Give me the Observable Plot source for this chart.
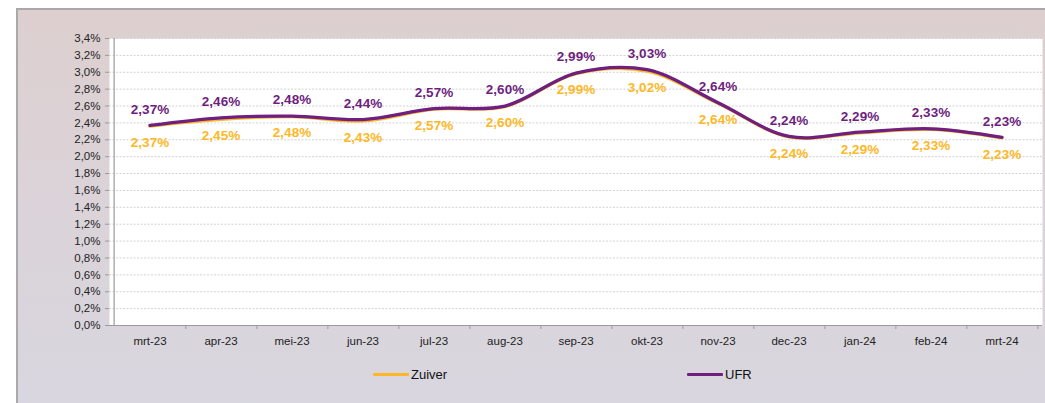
<!DOCTYPE html>
<html>
<head>
<meta charset="utf-8">
<script src="https://cdn.jsdelivr.net/npm/d3@7"></script>
<script src="https://cdn.jsdelivr.net/npm/@observablehq/plot@0.6"></script>
<style>
  html, body { margin: 0; padding: 0; background: #ffffff; }
  body { width: 1045px; height: 403px; position: relative; overflow: hidden; font-family: "Liberation Sans", Arial, sans-serif; }
  #frame { position: absolute; left: 16px; top: 8px; width: 1040px; height: 400px;
    border-top: 2px solid #a9a9a9; border-left: 2px solid #a9a9a9;
    background: linear-gradient(to bottom, #ddcfcf 0%, #dbd3d8 45%, #d8d6df 100%); }
  #chart { position: absolute; left: 0; top: 0; }
  .legend { position: absolute; top: 367px; display: flex; align-items: center; font-size: 13px; color: #111; }
  .legend .sw { width: 36px; height: 3px; margin-right: 2px; border-radius: 1px; }
</style>
</head>
<body>
<div id="frame"></div>
<div id="chart"></div>
<div class="legend" style="left:373px"><span class="sw" style="background:#fdb827"></span>Zuiver</div>
<div class="legend" style="left:687px"><span class="sw" style="background:#6e1f80"></span>UFR</div>
<script>
const months = ["mrt-23","apr-23","mei-23","jun-23","jul-23","aug-23","sep-23","okt-23","nov-23","dec-23","jan-24","feb-24","mrt-24"];
const zuiver = [2.37, 2.45, 2.48, 2.43, 2.57, 2.60, 2.99, 3.02, 2.64, 2.24, 2.29, 2.33, 2.23];
const ufr    = [2.37, 2.46, 2.48, 2.44, 2.57, 2.60, 2.99, 3.03, 2.64, 2.24, 2.29, 2.33, 2.23];
const yTicks = [0, 0.2, 0.4, 0.6, 0.8, 1.0, 1.2, 1.4, 1.6, 1.8, 2.0, 2.2, 2.4, 2.6, 2.8, 3.0, 3.2, 3.4];

const ORANGE = "#fdb827", PURPLE = "#6e1f80";
const W = 1045, H = 403, ML = 109, MR = 3, MT = 38, MB = 78;
const step = (W - ML - MR) / months.length;

const data = months.map((m, i) => ({month: m, zuiver: zuiver[i], ufr: ufr[i]}));
const pct1 = d => d.toFixed(1).replace(".", ",") + "%";
const pct2 = d => d.toFixed(2).replace(".", ",") + "%";

const chart = Plot.plot({
  width: W, height: H,
  marginLeft: ML, marginRight: MR, marginTop: MT, marginBottom: MB,
  style: {background: "transparent", fontFamily: "'Liberation Sans', Arial, sans-serif", fontSize: "11.5px", color: "#222"},
  x: {type: "band", domain: months, padding: 0, label: null},
  y: {domain: [0, 3.4], label: null},
  marks: [
    Plot.frame({fill: "white", stroke: "none"}),
    Plot.ruleY(yTicks.filter(d => d > 0), {stroke: "#d2d2d2", strokeDasharray: "2,1.5", strokeWidth: 1}),
    Plot.ruleX([months[0]], {dx: -step / 2, stroke: "#9a9a9a", strokeWidth: 1.2}),
    Plot.ruleY([0], {stroke: "#9a9a9a", strokeWidth: 1.2}),
    Plot.ruleX(months, {x: d => d, dx: step / 2, y1: 0, y2: 0, insetBottom: -4, stroke: "#9a9a9a"}),
    Plot.axisY({ticks: yTicks, tickFormat: pct1, tickSize: 4, tickPadding: 5, stroke: "#9a9a9a", fill: "#222", fontSize: 11.5}),
    Plot.axisX({tickSize: 0, tickPadding: 11, fill: "#222", fontSize: 11.5}),
    Plot.line(data, {x: "month", y: "zuiver", stroke: ORANGE, strokeWidth: 3.4, curve: "catmull-rom", dy: 0.5}),
    Plot.line(data, {x: "month", y: "ufr", stroke: PURPLE, strokeWidth: 3.3, curve: "catmull-rom"}),
    Plot.text(data, {x: "month", y: "ufr", text: d => pct2(d.ufr), dy: -16, fill: PURPLE, fontWeight: "bold", fontSize: 13.5}),
    Plot.text(data, {x: "month", y: "zuiver", text: d => pct2(d.zuiver), dy: 17, fill: ORANGE, fontWeight: "bold", fontSize: 13.5})
  ]
});
document.getElementById("chart").appendChild(chart);
</script>
</body>
</html>
